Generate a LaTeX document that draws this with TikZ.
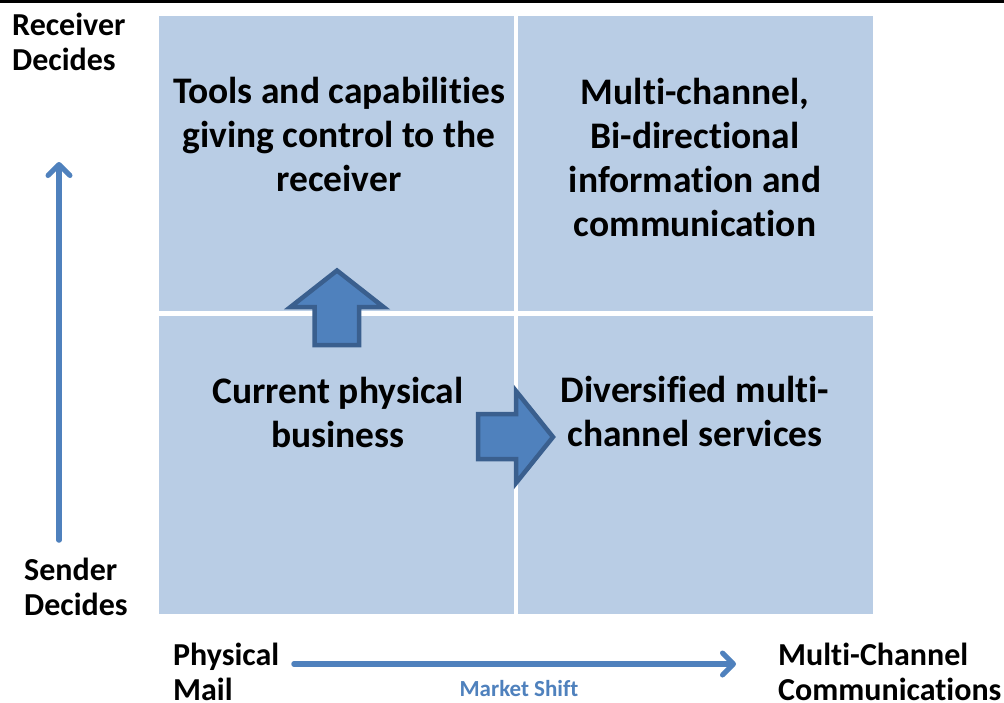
\documentclass[tikz,border=0pt]{standalone}
\usepackage{fontspec}
\setmainfont{Carlito}[Ligatures=NoCommon]
\usetikzlibrary{arrows.meta}
\definecolor{quadfill}{HTML}{B9CDE5}
\definecolor{accent}{HTML}{4F81BD}
\definecolor{accentdark}{HTML}{3A5F8E}
\tikzset{
  quad/.style={fill=quadfill, draw=none},
  quadtext/.style={align=center, inner sep=0pt, font=\fontsize{37.5}{44}\selectfont\bfseries},
  axislabel/.style={align=left, anchor=west, inner sep=0pt, font=\fontsize{32}{35}\selectfont\bfseries},
  blockarrow/.style={fill=accent, draw=accentdark, line width=4.5pt, line join=miter},
  axisarrow/.style={draw=accent, line width=5.5pt, line cap=round,
    -{Straight Barb[length=11pt,width=22pt,line width=5pt,round]}},
}
\begin{document}
\begin{tikzpicture}[x=1pt,y=-1pt]
\useasboundingbox (0,0) rectangle (1004,702);
\fill[white] (0,0) rectangle (1004,702);
% rule along the top edge
\fill[black] (0,0) rectangle (1004,2.5);

% the four quadrants
\fill[quad] (159,16) rectangle (514,311);
\fill[quad] (518,16) rectangle (873,311);
\fill[quad] (159,316) rectangle (514,614);
\fill[quad] (518,316) rectangle (873,614);

% block arrows between quadrants
\draw[blockarrow] (314.5,345) -- (314.5,307) -- (290.5,307) -- (337,270.5)
  -- (383.5,307) -- (359,307) -- (359,345) -- cycle;
\draw[blockarrow] (478,414) -- (516,414) -- (516,391) -- (553,437)
  -- (516,483) -- (516,459) -- (478,459) -- cycle;

% quadrant texts
\node[quadtext] (tl) at (339,134) {Tools and capabilities\\giving control to the\\receiver};
\node[quadtext] (tr) at (695,157) {Multi-channel,\\Bi-directional\\information and\\communication};
\node[quadtext] (bl) at (338,412) {Current physical\\business};
\node[quadtext] (br) at (695,411) {Diversified multi-\\channel services};

% axis labels
\node[axislabel] (recv) at (12,42) {Receiver\\Decides};
\node[axislabel] (send) at (24,587) {Sender\\Decides};
\node[axislabel] (phys) at (173,672) {Physical\\Mail};
\node[axislabel] (multi) at (778,672) {Multi-Channel\\Communications};

% axis arrows
\coordinate (vstart) at (59,540);
\coordinate (vend) at (59,162);
\coordinate (hstart) at (294,664);
\coordinate (hend) at (736,664);
\draw[axisarrow] (vstart) -- (vend);
\draw[axisarrow] (hstart) -- (hend);
\node[text=accent, inner sep=0pt, font=\fontsize{23}{26}\selectfont\bfseries] (shift) at (519,689) {Market Shift};
\end{tikzpicture}
\end{document}
